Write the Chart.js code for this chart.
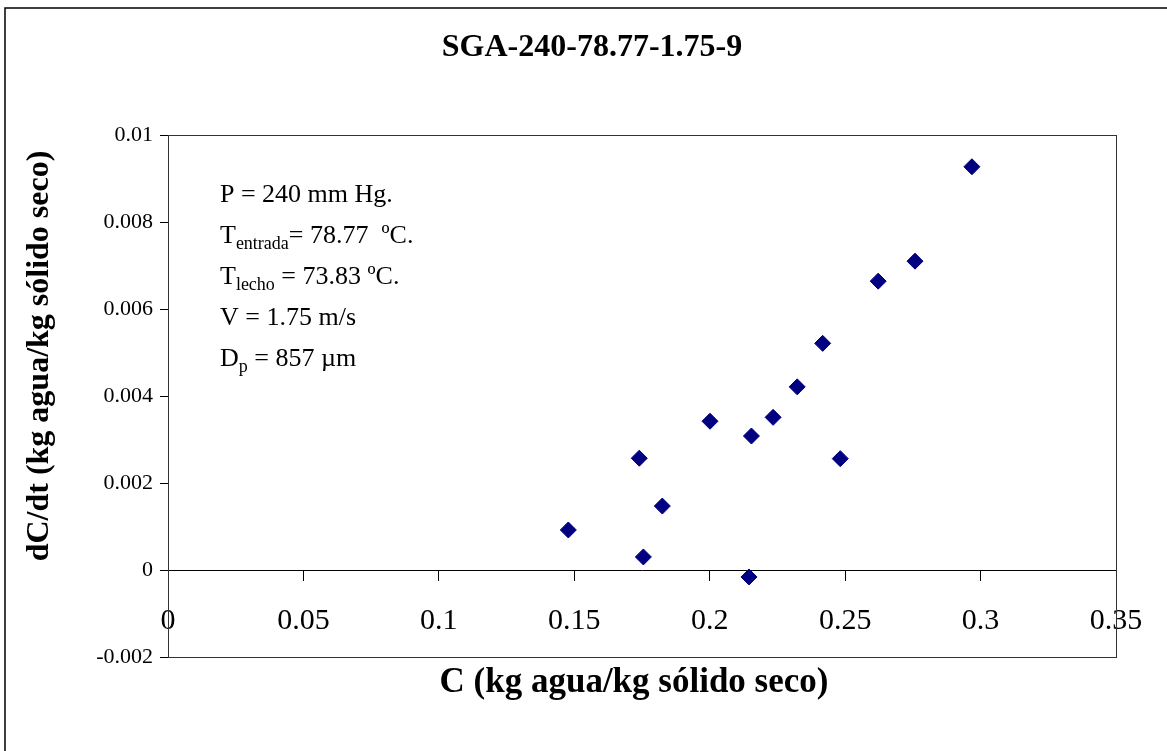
<!DOCTYPE html>
<html>
<head>
<meta charset="utf-8">
<title>SGA-240-78.77-1.75-9</title>
<script src="https://cdn.jsdelivr.net/npm/chart.js@4.4.1/dist/chart.umd.min.js"></script>
<style>
  html, body { margin: 0; padding: 0; background: #fff; }
  canvas { display: block; }
</style>
</head>
<body>
<canvas id="chart" width="1167" height="751"></canvas>
<script>
// data
var cValues    = [0.1478, 0.1740, 0.1755, 0.1825, 0.2001, 0.2145, 0.2154, 0.2234, 0.2323, 0.2417, 0.2482, 0.2622, 0.2758, 0.2968];
var dcdtValues = [0.00092, 0.00257, 0.00030, 0.00147, 0.00342, -0.00016, 0.00308, 0.00351, 0.00421, 0.00521, 0.00256, 0.00664, 0.00710, 0.00927];

var xTickValues = [0, 0.05, 0.1, 0.15, 0.2, 0.25, 0.3, 0.35];
var yTickValues = [-0.002, 0, 0.002, 0.004, 0.006, 0.008, 0.01];

var chartTitle = "SGA-240-78.77-1.75-9";
var xTitle = "C (kg agua/kg sólido seco)";
var yTitle = "dC/dt (kg agua/kg sólido seco)";

// annotation lines: [main text, subscript, rest]
var noteLines = [
  ["P = 240 mm Hg.", "", ""],
  ["T", "entrada", "= 78.77  ºC."],
  ["T", "lecho", " = 73.83 ºC."],
  ["V = 1.75 m/s", "", ""],
  ["D", "p", " = 857 µm"]
];

var FONT = "'Liberation Serif', 'Times New Roman', serif";

function fmt(v, d) { return Number(v.toFixed(d)).toString(); }

var points = cValues.map(function(c, i) { return { x: c, y: dcdtValues[i] }; });

var decor = {
  id: "decor",
  beforeDraw: function(chart) {
    var ctx = chart.ctx;
    ctx.save();
    ctx.fillStyle = "#fff";
    ctx.fillRect(0, 0, chart.width, chart.height);
    // outer frame (only left and top edges visible in the picture)
    ctx.strokeStyle = "#000";
    ctx.lineWidth = 1.5;
    ctx.beginPath();
    ctx.moveTo(5, chart.height + 5);
    ctx.lineTo(5, 8);
    ctx.lineTo(chart.width + 5, 8);
    ctx.stroke();
    ctx.restore();
  },
  beforeDatasetsDraw: function(chart) {
    var ctx = chart.ctx, a = chart.chartArea;
    ctx.save();
    ctx.strokeStyle = "#333";
    ctx.lineWidth = 1;
    ctx.strokeRect(Math.round(a.left) + 0.5, Math.round(a.top) + 0.5,
      Math.round(a.right - a.left), Math.round(a.bottom - a.top));
    ctx.restore();
  },
  afterDraw: function(chart) {
    var ctx = chart.ctx;
    ctx.save();
    ctx.fillStyle = "#000";
    ctx.textAlign = "center";
    ctx.textBaseline = "middle";

    ctx.font = "bold 32px " + FONT;
    ctx.fillText(chartTitle, 592, 48);

    ctx.font = "bold 35px " + FONT;
    ctx.fillText(xTitle, 634, 683);

    ctx.font = "bold 32px " + FONT;
    ctx.save();
    ctx.translate(40, 356);
    ctx.rotate(-Math.PI / 2);
    ctx.fillText(yTitle, 0, 0);
    ctx.restore();

    // parameter box
    ctx.textAlign = "left";
    ctx.textBaseline = "alphabetic";
    var x0 = 220, y0 = 202, step = 41;
    noteLines.forEach(function(line, i) {
      var x = x0, y = y0 + i * step;
      ctx.font = "26px " + FONT;
      ctx.fillText(line[0], x, y);
      x += ctx.measureText(line[0]).width;
      if (line[1]) {
        ctx.font = "18px " + FONT;
        ctx.fillText(line[1], x, y + 6);
        x += ctx.measureText(line[1]).width;
      }
      if (line[2]) {
        ctx.font = "26px " + FONT;
        ctx.fillText(line[2], x, y);
      }
    });
    ctx.restore();
  }
};

new Chart(document.getElementById("chart"), {
  type: "scatter",
  data: {
    datasets: [{
      data: points,
      pointStyle: "rectRot",
      pointRadius: 8,
      pointHoverRadius: 8,
      backgroundColor: "#000080",
      borderColor: "#000080",
      borderWidth: 1
    }]
  },
  options: {
    responsive: false,
    animation: false,
    devicePixelRatio: 1,
    layout: { padding: { left: 0, top: 135, right: 51, bottom: 94 } },
    plugins: {
      legend: { display: false },
      tooltip: { enabled: false },
      title: { display: false }
    },
    events: [],
    scales: {
      x: {
        type: "linear",
        position: { y: 0 },
        min: 0,
        max: 0.35,
        afterBuildTicks: function(s) { s.ticks = xTickValues.map(function(v) { return { value: v }; }); },
        afterFit: function(s) { s.paddingLeft = 0; s.paddingRight = 0; },
        grid: { drawOnChartArea: false, color: "#000", tickLength: 10, tickWidth: 1 },
        border: { display: true, color: "#000", width: 1 },
        ticks: {
          autoSkip: false,
          maxRotation: 0,
          padding: 23,
          color: "#000",
          font: { family: FONT, size: 30 },
          callback: function(v) { return fmt(v, 2); }
        }
      },
      y: {
        type: "linear",
        position: "left",
        min: -0.002,
        max: 0.01,
        afterBuildTicks: function(s) { s.ticks = yTickValues.map(function(v) { return { value: v }; }); },
        afterFit: function(s) { s.width = 168; s.paddingTop = 0; s.paddingBottom = 0; },
        grid: { drawOnChartArea: false, color: "#000", tickLength: 8, tickWidth: 1 },
        border: { display: true, color: "#000", width: 1 },
        ticks: {
          padding: 7,
          color: "#000",
          font: { family: FONT, size: 22 },
          callback: function(v) { return fmt(v, 3); }
        }
      }
    }
  },
  plugins: [decor]
});
</script>
</body>
</html>
